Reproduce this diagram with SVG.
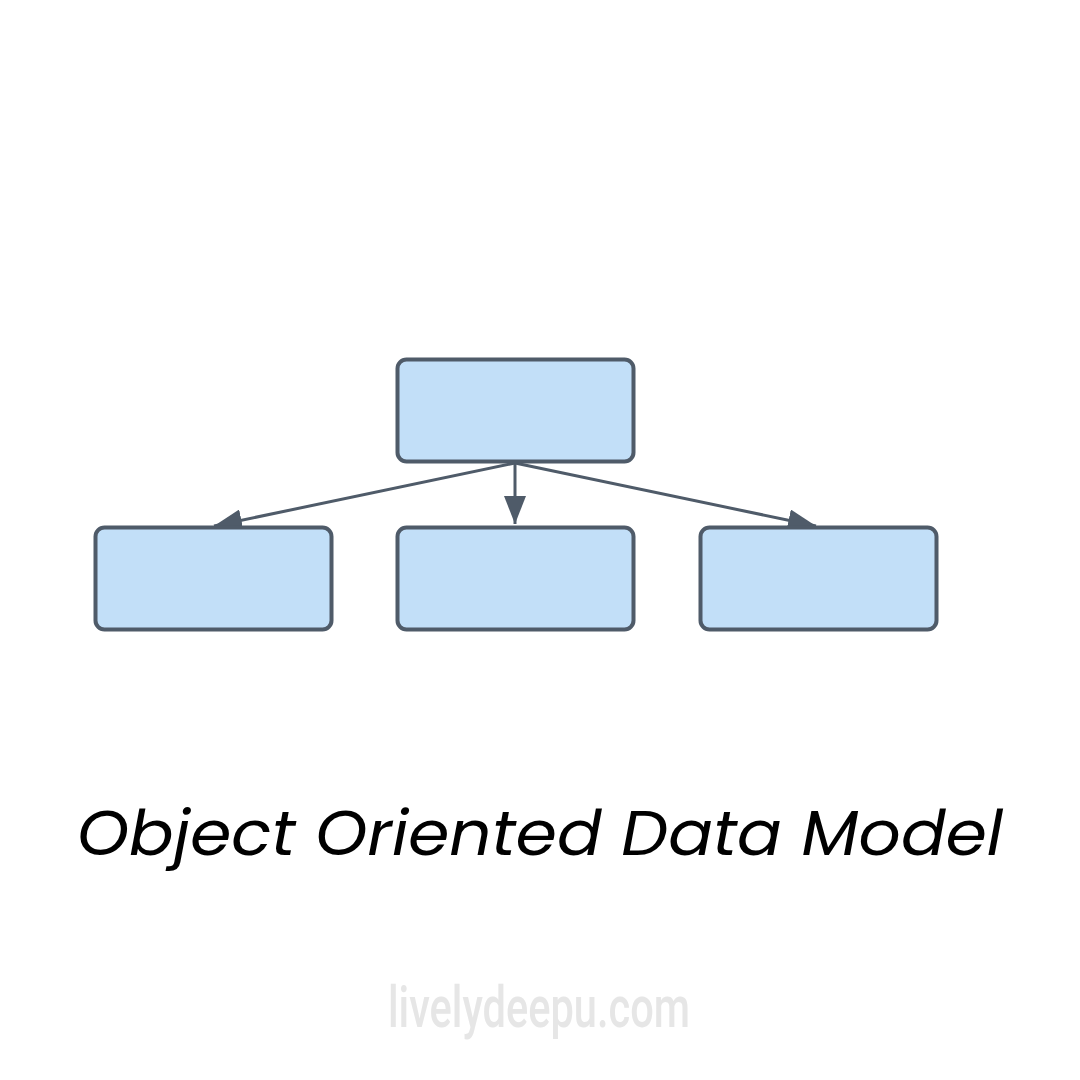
<svg xmlns="http://www.w3.org/2000/svg" width="1080" height="1080" viewBox="0 0 1080 1080">
<style>
.node{fill:#c2dff8;stroke:#4f5b69;stroke-width:4}
.edge{stroke:#4f5b69;stroke-width:3;fill:none}
.title{font-family:Poppins,"Open Sans","Noto Sans",sans-serif;font-style:italic;font-size:62px;fill:#000}
.wm{font-family:"Roboto","Liberation Sans",sans-serif;font-size:58px;font-weight:500;fill:#e6e6e6}
</style>
<defs>
<marker id="ah" viewBox="0 0 10 10" refX="10" refY="5" markerWidth="28" markerHeight="22" markerUnits="userSpaceOnUse" orient="auto" preserveAspectRatio="none">
<path d="M0,0 L10,5 L0,10 Z" fill="#4f5b69"/>
</marker>
</defs>
<rect width="1080" height="1080" fill="#fff"/>
<g id="edges">
<line class="edge" x1="515" y1="463" x2="214" y2="526" marker-end="url(#ah)"/>
<line class="edge" x1="515" y1="463" x2="515" y2="524" marker-end="url(#ah)"/>
<line class="edge" x1="515" y1="463" x2="816" y2="526" marker-end="url(#ah)"/>
</g>
<g id="node-root"><rect class="node" x="397.5" y="359.5" width="236" height="102" rx="9"/></g>
<g id="node-left"><rect class="node" x="95.5" y="527.5" width="236" height="102" rx="9"/></g>
<g id="node-mid"><rect class="node" x="397.5" y="527.5" width="236" height="102" rx="9"/></g>
<g id="node-right"><rect class="node" x="700.5" y="527.5" width="236" height="102" rx="9"/></g>
<text class="title" x="540" y="855" text-anchor="middle" textLength="926" lengthAdjust="spacingAndGlyphs">Object Oriented Data Model</text>
<text class="wm" x="539" y="1027" text-anchor="middle" textLength="302" lengthAdjust="spacingAndGlyphs">livelydeepu.com</text>
</svg>
